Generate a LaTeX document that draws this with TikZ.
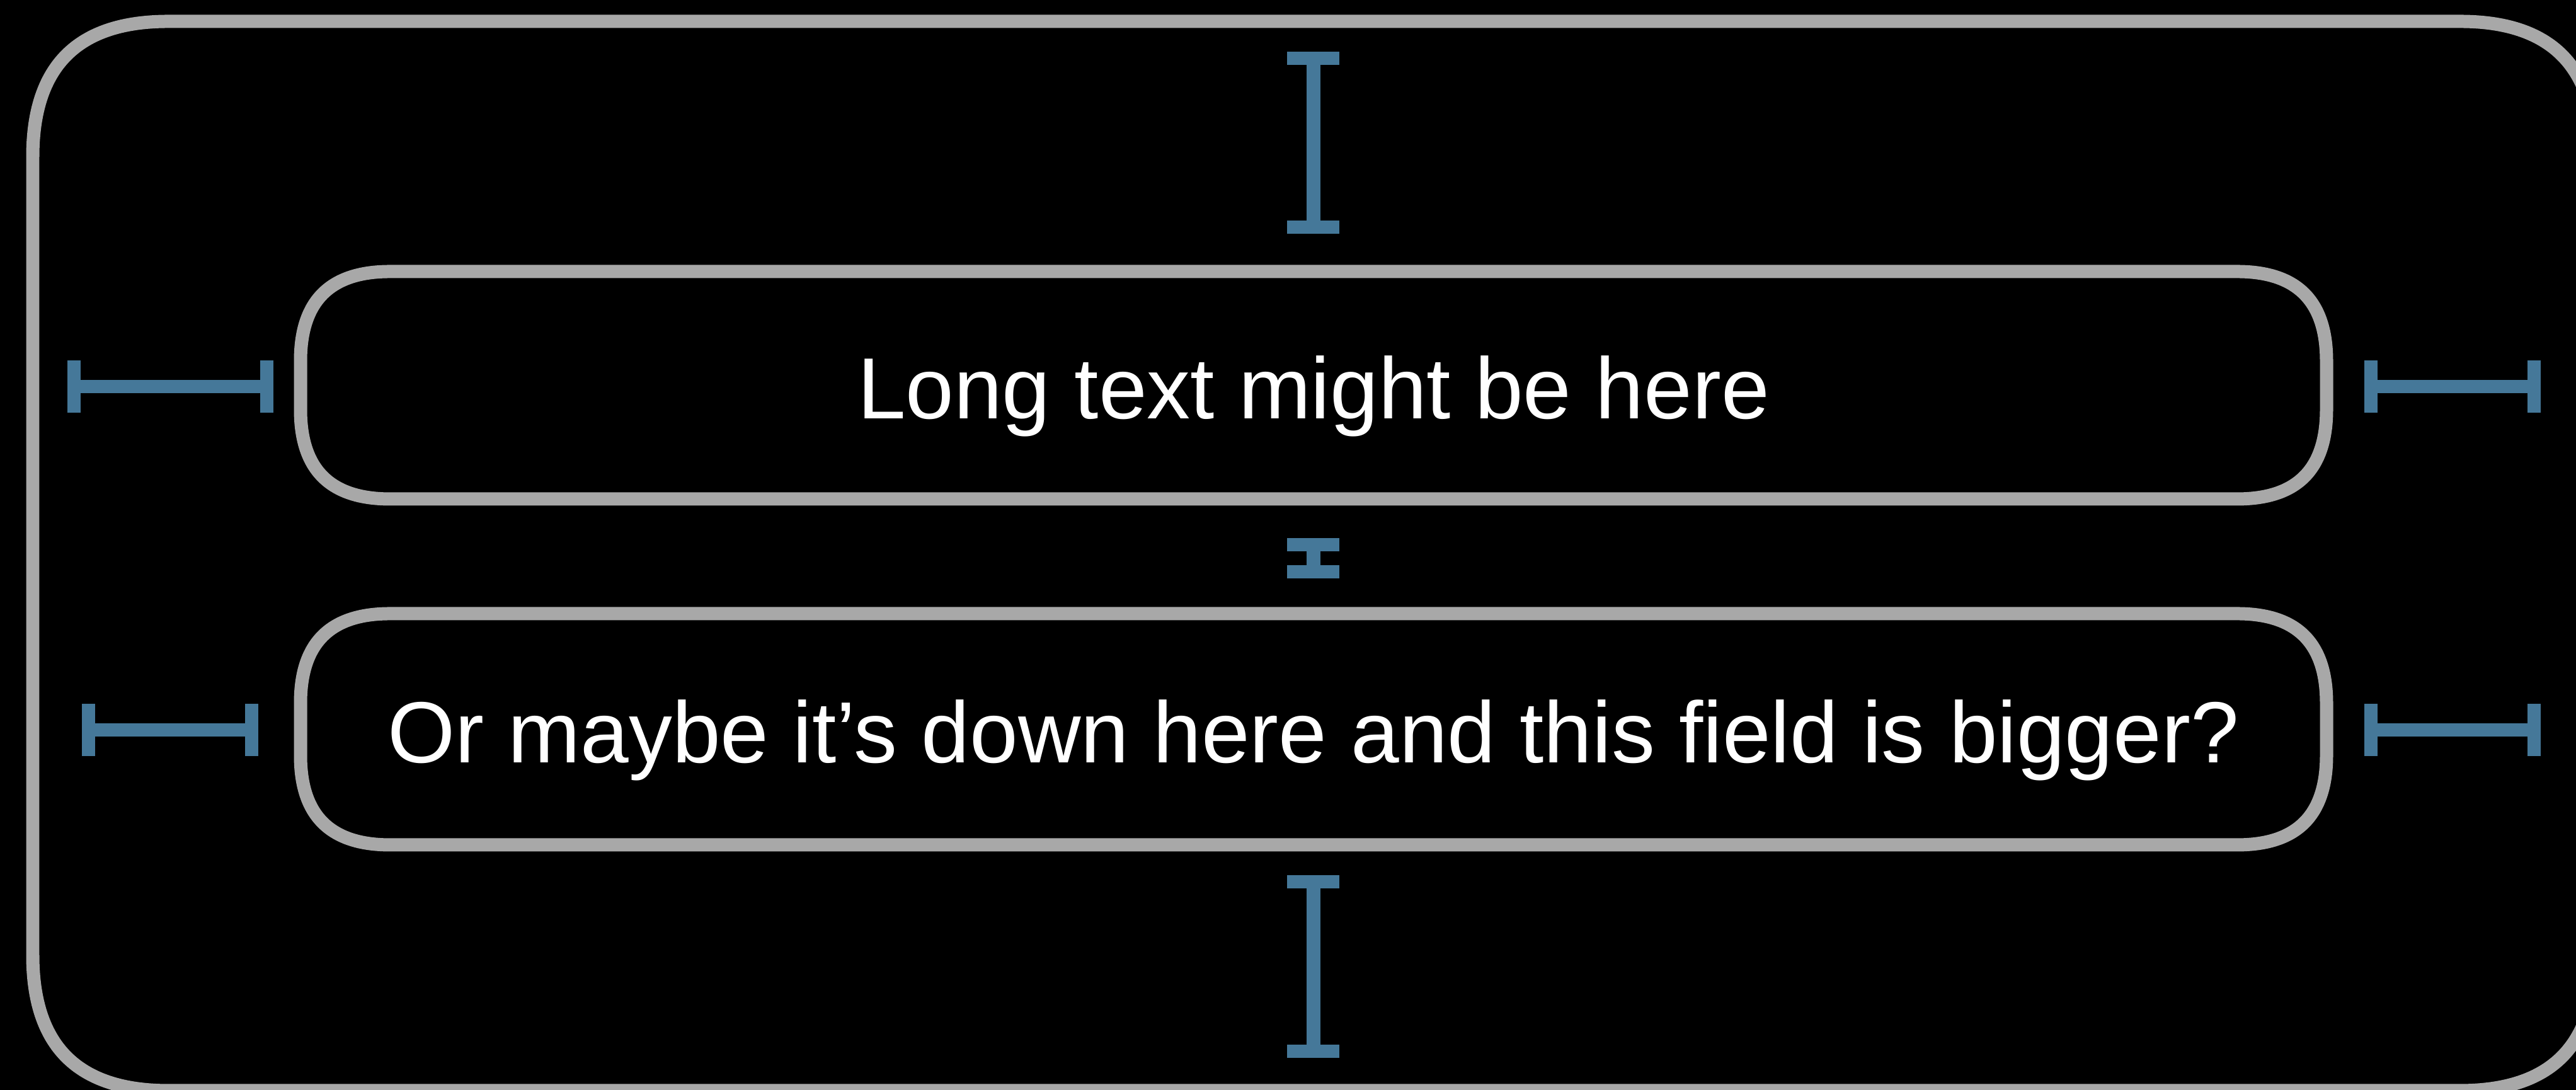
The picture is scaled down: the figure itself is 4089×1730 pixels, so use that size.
\documentclass[tikz,border=0pt]{standalone}
\usepackage{fontspec}
\setmainfont{Liberation Sans}
\definecolor{framegray}{RGB}{168,168,168}
\definecolor{gapblue}{RGB}{69,120,153}
% smooth-cornered (squircle-like) frame: x1,y1,x2,y2,extent
\newcommand\mksqframe[5]{%
  \draw[framestroke]
    (#1+#5,#2) -- (#3-#5,#2)
    .. controls (#3-0.33*#5,#2) and (#3,#2+0.33*#5) .. (#3,#2+#5)
    -- (#3,#4-#5)
    .. controls (#3,#4-0.33*#5) and (#3-0.33*#5,#4) .. (#3-#5,#4)
    -- (#1+#5,#4)
    .. controls (#1+0.33*#5,#4) and (#1,#4-0.33*#5) .. (#1,#4-#5)
    -- (#1,#2+#5)
    .. controls (#1,#2+0.33*#5) and (#1+0.33*#5,#2) .. (#1+#5,#2)
    -- cycle;}
\newcommand\mkhgap[4]{%
  \fill[gapblue] (#1,#3-41.5) rectangle (#1+21,#3+41.5);
  \fill[gapblue] (#2-21,#3-41.5) rectangle (#2,#3+41.5);
  \fill[gapblue] (#1,#3-#4/2) rectangle (#2,#3+#4/2);}
\newcommand\mkvgap[3]{%
  \fill[gapblue] (#1-41.5,#2) rectangle (#1+41.5,#2+21);
  \fill[gapblue] (#1-41.5,#3-21) rectangle (#1+41.5,#3);
  \fill[gapblue] (#1-11,#2) rectangle (#1+11,#3);}
\tikzset{
  framestroke/.style={draw=framegray, line width=2.1pt, line join=round},
  fieldtext/.style={inner sep=0pt, text=white,
    font=\fontsize{13.78pt}{16pt}\selectfont, text height=10.6pt, text depth=0pt}
}
\begin{document}
\begin{tikzpicture}[x=0.1pt, y=-0.1pt]
\fill[black] (0,0) rectangle (4089,1730);
\useasboundingbox (0,0) rectangle (4089,1730);
\clip (0,0) rectangle (4089,1730);
% frames
\mksqframe{52}{34}{4120}{1731}{215}
\mksqframe{477}{431}{3693}{792}{142}
\mksqframe{477}{974}{3693}{1341}{142}
% texts
\node[fieldtext] (field1) at (2085,611.5) {Long text might be here};
\node[fieldtext] (field2) at (2085,1157.5) {Or maybe it’s down here and this field is bigger?};
% vertical spacers
\mkvgap{2084.5}{82}{371}
\mkvgap{2084.5}{854}{918}
\mkvgap{2084.5}{1389}{1679}
% horizontal spacers
\mkhgap{107}{433.5}{613.5}{20.5}
\mkhgap{3753}{4033}{613.5}{20.5}
\mkhgap{129.5}{410}{1158.5}{21.5}
\mkhgap{3753}{4033}{1158.5}{21.5}
\end{tikzpicture}
\end{document}
